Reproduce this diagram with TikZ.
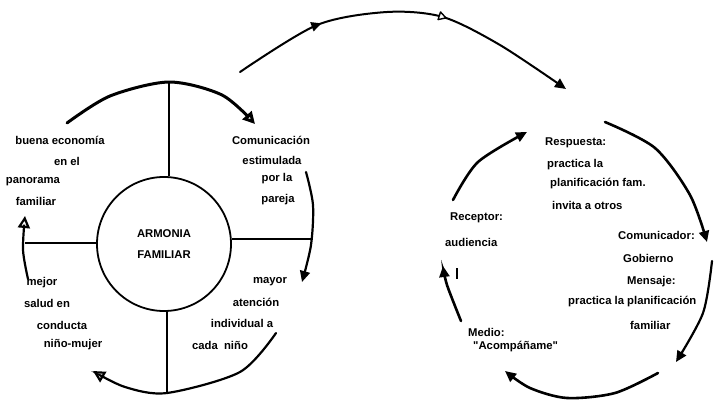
\documentclass[tikz,border=0pt]{standalone}
\usepackage{fontspec}
\setmainfont{Liberation Sans}[Ligatures=TeXOff]
\usetikzlibrary{arrows.meta,decorations.markings}
\begin{document}
\begin{tikzpicture}[x=1pt,y=-1pt,
  txt/.style={inner sep=0pt, font=\bfseries\fontsize{11.3}{13}\selectfont},
  lft/.style={txt, anchor=west},
  curvy/.style={line width=2.2pt, line cap=round},
  heavy/.style={line width=2.6pt, line cap=round},
  spoke/.style={line width=1.6pt},
  fill tip/.style={-{Triangle[length=11pt,width=10pt]}},
  open tip/.style={-{Triangle[open,length=12pt,width=12pt]}},
]
\useasboundingbox (0,0) rectangle (714,399);

% ---------- left wheel: ARMONIA FAMILIAR ----------
\node[draw, circle, minimum size=134pt, line width=1.8pt, txt, align=center,
      font=\bfseries\fontsize{11.3}{21}\selectfont] (hub) at (164,244) {ARMONIA\\FAMILIAR};

\coordinate (sN) at (169,82);
\coordinate (sS) at (167,393);
\coordinate (sE) at (312,239);
\coordinate (sW) at (25,243);
\draw[spoke] (sN) -- (hub.north -| sN);
\draw[spoke] (sS) -- (hub.south -| sS);
\draw[spoke] (sE) -- (hub.east |- sE);
\draw[spoke] (sW) -- (hub.west |- sW);

% arrows running round the wheel
\coordinate (ta) at (67,123);  \coordinate (tb) at (255,124);
\draw[heavy, line width=3pt, open tip] plot[smooth] coordinates {(ta) (110,96) (169,82) (222,95) (tb)};
\coordinate (ra) at (306,172); \coordinate (rb) at (302,282);
\draw[curvy, fill tip] plot[smooth] coordinates {(ra) (313,205) (311,245) (rb)};
\coordinate (ba) at (276,333); \coordinate (bb) at (93,371);
\draw[curvy, open tip] plot[smooth] coordinates {(ba) (240,372) (167,393) (125,387) (bb)};
\coordinate (la) at (28,279);  \coordinate (lb) at (25,216);
\draw[curvy, open tip] plot[smooth] coordinates {(la) (23,250) (lb)};

% quadrant texts
\node[txt] (e1) at (60,140) {buena economía};
\node[txt] (e2) at (67,161) {en el};
\node[txt] (e3) at (33,182) {panorama};
\node[txt] (e4) at (36,201) {familiar};

\node[txt] (c1) at (271,140) {Comunicación};
\node[txt] (c2) at (272,160) {estimulada};
\node[txt] (c3) at (277,179) {por la};
\node[txt] (c4) at (278,200) {pareja};

\node[txt] (m1) at (270,282) {mayor};
\node[txt] (m2) at (256,302) {atención};
\node[txt] (m3) at (242,323) {individual a};
\node[txt] (m4) at (220,345) {cada\ \ niño};

\node[txt] (s1) at (42,283) {mejor};
\node[txt] (s2) at (47,303) {salud en};
\node[txt] (s3) at (62,325) {conducta};
\node[txt] (s4) at (73,345) {niño-mujer};

% ---------- bridge between the wheels ----------
\coordinate (ga) at (240,72); \coordinate (gb) at (566,89);
\draw[curvy, line width=2pt, fill tip, postaction={decorate},
  decoration={markings,
    mark=at position 0.26 with {\fill (-9pt,-5pt) -- (1pt,0pt) -- (-9pt,5pt) -- cycle;},
    mark=at position 0.61 with {\draw[line width=1.4pt, fill=white, line join=round]
        (-6pt,-4pt) -- (1pt,0pt) -- (-6pt,4pt) -- cycle;}}]
  plot[smooth] coordinates {(ga) (317,25) (387,12) (443,17) (500,45) (gb)};

% ---------- right wheel: communication cycle ----------
\coordinate (qa) at (453,200); \coordinate (qb) at (527,132);
\draw[heavy, fill tip] plot[smooth] coordinates {(qa) (478,162) (qb)};
\coordinate (qc) at (605,122); \coordinate (qd) at (707,242);
\draw[heavy, fill tip] plot[smooth] coordinates {(qc) (655,148) (690,195) (qd)};
\coordinate (qe) at (712,261); \coordinate (qf) at (676,362);
\draw[curvy, fill tip] plot[smooth] coordinates {(qe) (703,313) (qf)};
\coordinate (qg) at (658,373); \coordinate (qh) at (505,371);
\draw[heavy, fill tip] plot[smooth] coordinates {(qg) (615,393) (567,398) (530,388) (qh)};
\coordinate (qi) at (461,321); \coordinate (qj) at (443,266);
\draw[heavy, fill tip] plot[smooth] coordinates {(qi) (447,285) (qj)};
\draw[line width=1.5pt] (457,268) -- (457,279);

\node[lft] (r1) at (545,143) {Respuesta:};
\node[lft] (r2) at (547,165) {practica la};
\node[lft] (r3) at (550,184) {planificación fam.};
\node[lft] (r4) at (552,205) {invita a otros};

\node[lft] (p1) at (450,218) {Receptor:};
\node[lft] (p2) at (445,242) {audiencia};

\node[lft] (g1) at (618,235) {Comunicador:};
\node[lft] (g2) at (623,258) {Gobierno};

\node[lft] (n1) at (627,282) {Mensaje:};
\node[lft] (n2) at (568,302) {practica la planificación};
\node[lft] (n3) at (630,325) {familiar};

\node[lft] (d1) at (468,332) {Medio:};
\node[lft] (d2) at (473,347) {"Acompáñame"};
\end{tikzpicture}
\end{document}
